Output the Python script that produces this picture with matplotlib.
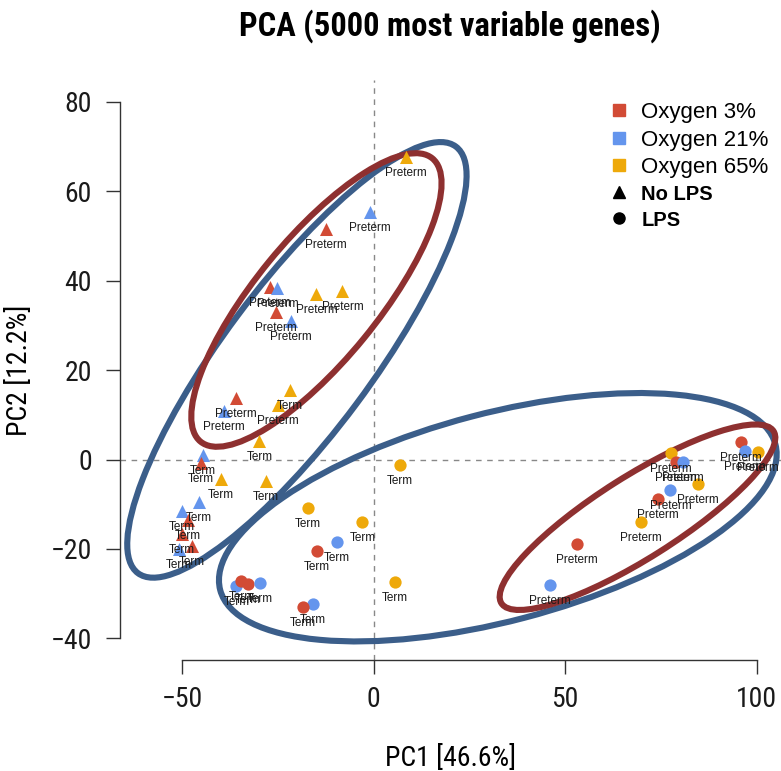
import matplotlib
matplotlib.use('Agg')
import matplotlib.pyplot as plt
from matplotlib.lines import Line2D
from matplotlib.patches import Ellipse
from matplotlib.transforms import ScaledTranslation

plt.rcParams['font.family'] = ['Liberation Sans', 'DejaVu Sans']
narrow = ['Roboto Condensed', 'Liberation Sans', 'DejaVu Sans']

# PCA scores (PC1, PC2)
pc1 = [8.5, -1.0, -12.6, -27.2, -25.2, -15.0, -8.2, -25.6, -21.7, -21.9, -36.0, -25.1,
       -39.1, -29.9, -44.6, -45.2, -40.0, -28.2, -45.8, -50.1, -48.6, -50.2, -51.0, -47.6,
       6.8, -17.3, -3.0, -9.7, -14.8, 5.5, -35.9, -34.6, -33.0, -29.8, -16.0, -18.5,
       96.0, 96.9, 100.3, 77.7, 78.9, 80.8, 84.6, 77.5, 74.3, 69.7, 53.1, 46.0]
pc2 = [67.7, 55.4, 51.5, 38.7, 38.3, 37.0, 37.6, 32.9, 30.9, 15.5, 13.8, 12.1,
       10.8, 4.1, 1.1, -0.7, -4.3, -4.8, -9.5, -11.6, -13.6, -16.6, -20.0, -19.4,
       -1.3, -10.9, -14.0, -18.5, -20.5, -27.5, -28.3, -27.2, -27.9, -27.7, -32.4, -32.9,
       3.9, 1.9, 1.6, 1.4, -0.6, -0.6, -5.4, -6.8, -8.8, -14.0, -19.0, -28.1]
oxygen = ['65', '21', '3', '3', '21', '65', '65', '3', '21', '65', '3', '65',
          '21', '65', '21', '3', '65', '65', '21', '21', '3', '3', '21', '3',
          '65', '65', '65', '21', '3', '65', '21', '3', '3', '21', '21', '3',
          '3', '21', '65', '65', '3', '21', '65', '21', '3', '65', '3', '21']
lps = ['No LPS'] * 24 + ['LPS'] * 24
birth = (['Preterm'] * 9 + ['Term', 'Preterm', 'Preterm', 'Preterm'] + ['Term'] * 11
         + ['Term'] * 12 + ['Preterm'] * 12)

oxy_levels = ['3', '21', '65']
oxy_colors = {'3': '#D24B35', '21': '#6495ED', '65': '#EEA90A'}
lps_marker = {'No LPS': '^', 'LPS': 'o'}

# ellipses: centre in data units, axes in pixels, angle in degrees
ell_cx = [-20.1, -15.0, 32.4, 68.9]
ell_cy = [22.3, 35.7, -12.9, -12.9]
ell_a = [266, 183, 287, 161]
ell_b = [74, 61, 104, 41]
ell_ang = [53.3, 50.7, 14.7, 32.3]
ell_col = ['#3B5E8A', '#8E3030', '#3B5E8A', '#8E3030']

fig = plt.figure(figsize=(7.81, 7.71), dpi=100)
ax = fig.add_axes([0.1533, 0.1442, 0.8467, 0.7514])
ax.set_xlim(-66.4, 106.4)
ax.set_ylim(-44.8, 84.8)

ax.axvline(0, color='#888888', lw=1, ls=(0, (4, 4)), zorder=1)
ax.axhline(0, color='#888888', lw=1, ls=(0, (4, 4)), zorder=1)

for x, y, o, l, b in zip(pc1, pc2, oxygen, lps, birth):
    ax.scatter(x, y, s=88 if l == 'No LPS' else 78, marker=lps_marker[l],
               color=oxy_colors[o], linewidths=0, zorder=3)
    ax.annotate(b, (x, y), xytext=(0, -16), textcoords='offset pixels',
                ha='center', va='center', fontsize=8.5, color='#1a1a1a', zorder=4)

for cx, cy, a, b, ang, c in zip(ell_cx, ell_cy, ell_a, ell_b, ell_ang, ell_col):
    tr = fig.dpi_scale_trans + ScaledTranslation(cx, cy, ax.transData)
    ax.add_patch(Ellipse((0, 0), 2 * a / 100, 2 * b / 100, angle=ang, transform=tr,
                         fill=False, ec=c, lw=4.4, zorder=2))

# R-style axes
for s in ['top', 'right']:
    ax.spines[s].set_visible(False)
ax.spines['left'].set_bounds(-40, 80)
ax.spines['bottom'].set_bounds(-50, 100)
for s in ['left', 'bottom']:
    ax.spines[s].set_color('#333333')
    ax.spines[s].set_linewidth(1)
ax.set_xticks([-50, 0, 50, 100])
ax.set_yticks([-40, -20, 0, 20, 40, 60, 80])
ax.tick_params(length=10, width=1, color='#333333', labelcolor='#1a1a1a')
ax.tick_params(axis='x', pad=9)
ax.tick_params(axis='y', pad=10)
for t in ax.get_xticklabels() + ax.get_yticklabels():
    t.set_family(narrow)
    t.set_fontsize(20)

ax.set_xlabel('PC1 [46.6%]', family=narrow, fontsize=20, labelpad=23)
ax.set_ylabel('PC2 [12.2%]', family=narrow, fontsize=20, labelpad=13)
fig.text(0.576, 0.966, 'PCA (5000 most variable genes)', family=narrow,
         fontsize=23.5, fontweight='bold', ha='center', va='center')

handles = [Line2D([], [], ls='', marker='s', ms=8.5, color=oxy_colors[o]) for o in oxy_levels]
handles += [Line2D([], [], ls='', marker='^', ms=9, color='black'),
            Line2D([], [], ls='', marker='o', ms=8, color='black')]
labels = ['Oxygen 3%', 'Oxygen 21%', 'Oxygen 65%', 'No LPS', 'LPS']
leg = ax.legend(handles, labels, loc='upper left', bbox_to_anchor=(599 / 781, 1 - 91 / 771),
                bbox_transform=fig.transFigure, frameon=False, fontsize=16,
                handlelength=0.8, handletextpad=0.6, labelspacing=0.29, borderpad=0)
for t in leg.get_texts()[3:]:
    t.set_fontsize(14.5)
    t.set_fontweight('bold')

fig.savefig('out.png', dpi=100)
